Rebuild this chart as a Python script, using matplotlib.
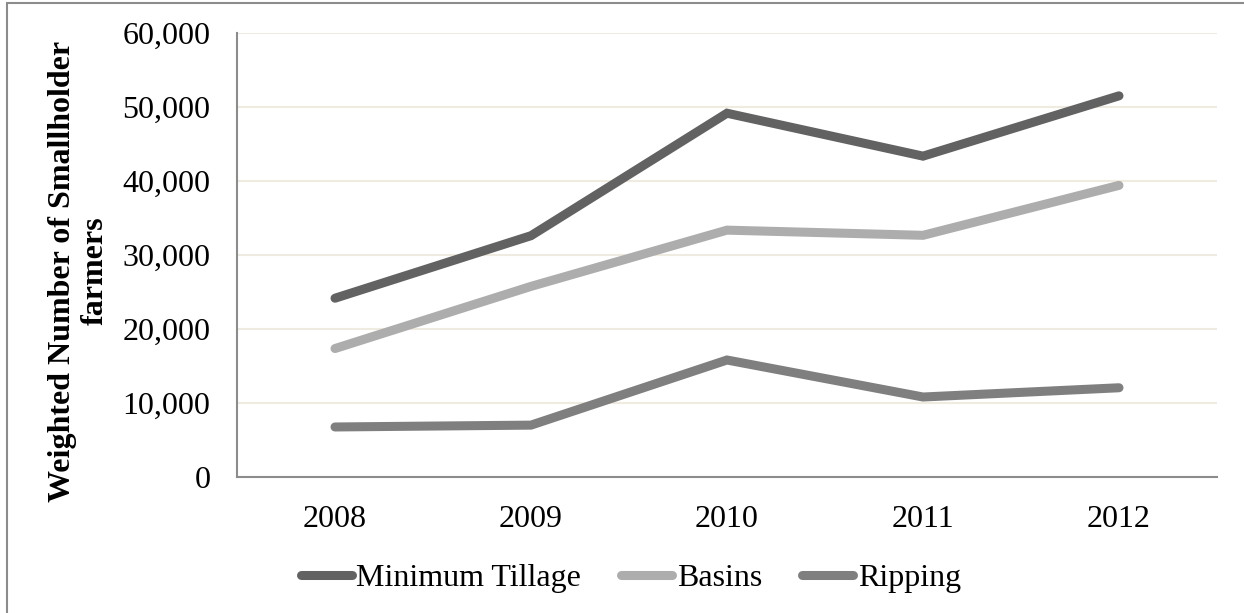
import matplotlib
matplotlib.use("Agg")
import matplotlib.pyplot as plt
from matplotlib.patches import Rectangle
from matplotlib.ticker import FuncFormatter, MultipleLocator

plt.rcParams['font.family'] = ['Liberation Serif', 'DejaVu Serif']

years = ["2008", "2009", "2010", "2011", "2012"]
minimum_tillage = [24200, 32650, 49200, 43400, 51550]
basins = [17400, 25800, 33400, 32700, 39450]
ripping = [6800, 7050, 15850, 10850, 12100]

series = [
    ("Minimum Tillage", minimum_tillage, "#626262"),
    ("Basins", basins, "#adadad"),
    ("Ripping", ripping, "#7f7f7f"),
]

W, H = 1244, 613
fig = plt.figure(figsize=(W / 100, H / 100), dpi=100)
ax = fig.add_axes([237 / W, 1 - 477.3 / H, (1217 - 237) / W, (477.3 - 33.3) / H])

x = list(range(len(years)))
for name, vals, col in series:
    ax.plot(x, vals, color=col, lw=6.5, solid_capstyle='round',
            solid_joinstyle='miter', label=name, zorder=3)

ax.set_xlim(-0.5, len(years) - 0.5)
ax.set_ylim(0, 60000)
ax.yaxis.set_major_locator(MultipleLocator(10000))
ax.yaxis.set_major_formatter(FuncFormatter(lambda v, p: f"{int(v):,}"))
ax.set_xticks(x)
ax.set_xticklabels(years)
ax.grid(axis='y', color='#efebe1', lw=1.5, zorder=0)
ax.tick_params(axis='both', length=0, labelsize=23, colors='black')
ax.tick_params(axis='y', pad=19)
ax.tick_params(axis='x', pad=20)
for s in ['top', 'right']:
    ax.spines[s].set_visible(False)
for s in ['left', 'bottom']:
    ax.spines[s].set_color('#8c8c8c')
    ax.spines[s].set_linewidth(1.5)

fig.text(79 / W, 1 - 271 / H, "Weighted Number of Smallholder\nfarmers",
         rotation=90, ha='center', va='center', multialignment='center',
         fontsize=23, fontweight='bold', linespacing=1.15)

fig.legend(loc='center', bbox_to_anchor=(631 / W, 1 - 578 / H), ncol=3,
           frameon=False, fontsize=23, handlelength=1.6, handletextpad=0.15,
           columnspacing=1.25, borderpad=0)

fig.patches.append(Rectangle((7 / W, -0.05), 1.1, (H - 3) / H + 0.05,
                             transform=fig.transFigure, fill=False,
                             edgecolor='#8c8c8c', lw=1.5))

fig.savefig("out.png", dpi=100, facecolor='white')
